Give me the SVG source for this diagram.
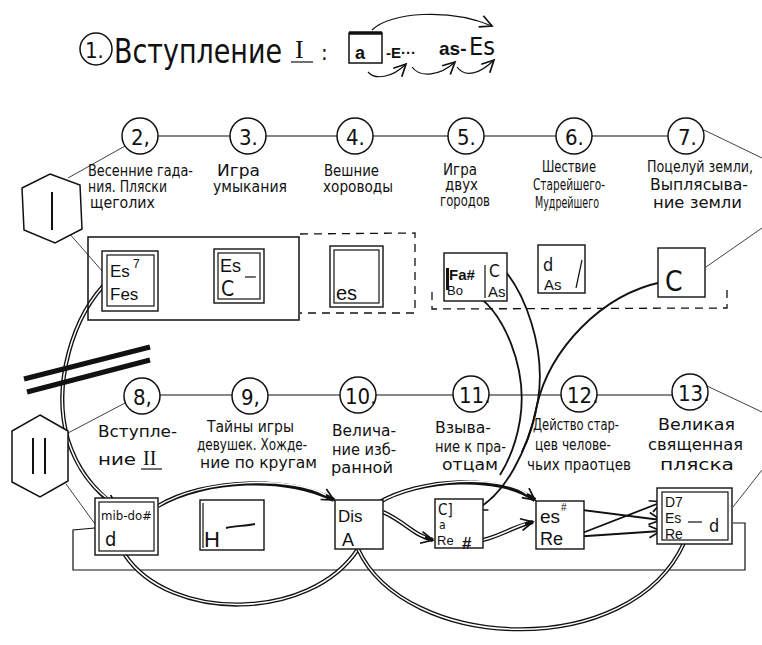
<svg xmlns="http://www.w3.org/2000/svg" width="762" height="645" viewBox="0 0 762 645">
<defs>
<style>
.hw{font-family:"Liberation Sans Narrow","DejaVu Sans Condensed","Liberation Sans",sans-serif;fill:#111}
.lb{font-size:16.5px}
.sm{font-size:15px}
.bx{font-family:"Liberation Sans","DejaVu Sans",sans-serif;fill:#111}
.c{fill:#fff;stroke:#111;stroke-width:1.5}
.r{fill:#fff;stroke:#111;stroke-width:1.4}
.ri{fill:none;stroke:#111;stroke-width:1.2}
.ln{fill:none;stroke:#111;stroke-width:1.2}
.th{fill:none;stroke:#111;stroke-width:0.8}
.dash{fill:none;stroke:#111;stroke-width:1.3;stroke-dasharray:8 6}
.s{fill:none;stroke:#111;stroke-width:1.8}
.db{fill:none;stroke:#111;stroke-width:4.2}
.dw{fill:none;stroke:#fff;stroke-width:1.5}
</style>
<marker id="ah" markerUnits="userSpaceOnUse" markerWidth="16" markerHeight="14" refX="13" refY="7" orient="auto">
<path d="M1,1 L13,7 L1,13" fill="none" stroke="#111" stroke-width="1.7"/>
</marker>
</defs>
<rect width="762" height="645" fill="#fff"/>

<g id="title">
<circle class="c" cx="96" cy="49" r="16"/>
<text class="hw" x="85" y="58" font-size="22">1.</text>
<text class="hw" x="114" y="63" font-size="34" textLength="168" lengthAdjust="spacingAndGlyphs">Вступление</text>
<text x="295" y="58" font-size="26" font-family="Liberation Serif,serif" fill="#111">I</text>
<line class="ln" x1="291" y1="62" x2="313" y2="62"/>
<text class="hw" x="321" y="60" font-size="22">:</text>
<rect x="349" y="33" width="33" height="30" fill="none" stroke="#111" stroke-width="1.5"/>
<line x1="349" y1="33" x2="382" y2="33" stroke="#111" stroke-width="3.5"/>
<text class="bx" x="355" y="59" font-size="18" font-weight="bold">a</text>
<text class="bx" x="386" y="58" font-size="15" font-weight="bold">-E···</text>
<text class="bx" x="439" y="55" font-size="19" font-weight="bold">as-</text>
<text class="hw" x="469" y="55" font-size="25">Es</text>
<path class="ln" d="M372,30 C390,12 450,8 492,26" marker-end="url(#ah)"/>
<path class="ln" d="M368,72 C375,80 392,78 406,64" marker-end="url(#ah)"/>
<path class="ln" d="M412,67 C420,78 440,76 455,62" marker-end="url(#ah)"/>
<path class="ln" d="M457,67 C465,78 480,74 494,60" marker-end="url(#ah)"/>
</g>

<g id="connectors">
<line class="ln" x1="158" y1="136" x2="668" y2="136"/>
<line class="th" x1="704" y1="130" x2="762" y2="158"/>
<line class="th" x1="706" y1="267" x2="762" y2="228"/>
<line class="ln" x1="160" y1="395" x2="672" y2="395"/>
<line class="th" x1="707" y1="386" x2="762" y2="412"/>
<line class="th" x1="733" y1="507" x2="762" y2="470"/>
<line class="th" x1="68" y1="178" x2="125" y2="146"/>
<line class="th" x1="68" y1="232" x2="103" y2="272"/>
<line class="th" x1="68" y1="433" x2="125" y2="403"/>
<line class="th" x1="66" y1="484" x2="95" y2="524"/>
<polyline class="ln" points="95,528 73,530 73,570 745,570 745,523 733,523"/>
<path class="dash" d="M300,234 L415,233 L415,313 L300,313"/>
<path class="dash" d="M432,292 L432,309 L727,308 L727,290"/>
<path class="db" d="M110,279 C72,315 52,385 68,440 C78,472 96,492 117,507" marker-end="url(#ah)"/>
<path class="dw" d="M110,279 C72,315 52,385 68,440 C77,468 92,487 108,499"/>
<path class="db" d="M158,506 C205,478 290,476 334,500" marker-end="url(#ah)"/>
<path class="dw" d="M158,506 C205,478 290,476 326,495"/>
<path class="db" d="M125,555 C170,622 310,622 358,549"/>
<path class="dw" d="M125,555 C170,622 310,622 358,549"/>
<path class="db" d="M358,549 C405,652 630,662 684,543"/>
<path class="dw" d="M358,549 C405,652 630,662 684,543"/>
<path class="db" d="M383,512 C405,522 415,536 433,540" marker-end="url(#ah)"/>
<path class="dw" d="M383,512 C405,522 412,533 425,537"/>
<path class="db" d="M378,503 C420,478 500,474 535,500" marker-end="url(#ah)"/>
<path class="dw" d="M378,503 C420,478 500,474 527,494"/>
<path class="db" d="M483,540 C500,536 515,526 533,522" marker-end="url(#ah)"/>
<path class="dw" d="M483,540 C500,536 512,528 525,524"/>
<path class="s" d="M567,508 L661,520" marker-end="url(#ah)"/>
<path class="s" d="M572,537 L662,502" marker-end="url(#ah)"/>
<path class="s" d="M572,537 L661,531" marker-end="url(#ah)"/>
<path class="s" d="M470,291 C505,310 528,370 520,420 C516,445 508,462 500,475"/>
<path class="s" d="M497,262 C526,290 546,350 538,400 C534,425 528,440 522,452"/>
<path class="s" d="M662,282 C600,295 550,350 537,405 C528,450 505,495 475,510" marker-end="url(#ah)"/>
</g>

<g id="bars">
<line x1="24" y1="379" x2="150" y2="347" stroke="#111" stroke-width="5"/>
<line x1="27" y1="392" x2="150" y2="360" stroke="#111" stroke-width="5"/>
</g>

<g id="hexI">
<polygon points="50,174 80,185 82,229 55,243 24,230 22,188" fill="#fff" stroke="#111" stroke-width="1.5"/>
<line x1="52" y1="192" x2="52" y2="230" stroke="#111" stroke-width="2"/>
</g>
<g id="hexII">
<polygon points="40,415 68,431 68,481 40,497 12,482 12,431" fill="#fff" stroke="#111" stroke-width="1.5"/>
<line x1="33" y1="438" x2="33" y2="474" stroke="#111" stroke-width="2"/>
<line x1="45" y1="438" x2="45" y2="474" stroke="#111" stroke-width="2"/>
</g>

<g id="n2"><circle class="c" cx="140" cy="136" r="18"/><text class="hw" x="131" y="145" font-size="22">2,</text>
<text class="hw lb" x="88" y="176" textLength="105" lengthAdjust="spacingAndGlyphs">Весенние гада-</text>
<text class="hw lb" x="88" y="192" textLength="79" lengthAdjust="spacingAndGlyphs">ния. Пляски</text>
<text class="hw lb" x="90" y="208" textLength="65" lengthAdjust="spacingAndGlyphs">щеголих</text></g>
<g id="n3"><circle class="c" cx="248" cy="136" r="18"/><text class="hw" x="239" y="145" font-size="22">3.</text>
<text class="hw lb" x="217" y="176" textLength="43" lengthAdjust="spacingAndGlyphs">Игра</text>
<text class="hw lb" x="213" y="192" textLength="74" lengthAdjust="spacingAndGlyphs">умыкания</text></g>
<g id="n4"><circle class="c" cx="355" cy="136" r="18"/><text class="hw" x="346" y="145" font-size="22">4.</text>
<text class="hw lb" x="324" y="176" textLength="55" lengthAdjust="spacingAndGlyphs">Вешние</text>
<text class="hw lb" x="323" y="192" textLength="70" lengthAdjust="spacingAndGlyphs">хороводы</text></g>
<g id="n5"><circle class="c" cx="466" cy="136" r="18"/><text class="hw" x="457" y="145" font-size="22">5.</text>
<text class="hw sm" x="443" y="175" textLength="34" lengthAdjust="spacingAndGlyphs">Игра</text>
<text class="hw sm" x="445" y="190" textLength="33" lengthAdjust="spacingAndGlyphs">двух</text>
<text class="hw sm" x="440" y="206" textLength="50" lengthAdjust="spacingAndGlyphs">городов</text></g>
<g id="n6"><circle class="c" cx="574" cy="136" r="18"/><text class="hw" x="565" y="145" font-size="22">6.</text>
<text class="hw lb" x="542" y="172" textLength="54" lengthAdjust="spacingAndGlyphs">Шествие</text>
<text class="hw lb" x="533" y="190" textLength="72" lengthAdjust="spacingAndGlyphs">Старейшего-</text>
<text class="hw lb" x="535" y="208" textLength="64" lengthAdjust="spacingAndGlyphs">Мудрейшего</text></g>
<g id="n7"><circle class="c" cx="686" cy="136" r="18"/><text class="hw" x="678" y="145" font-size="22">7.</text>
<text class="hw lb" x="647" y="172" textLength="106" lengthAdjust="spacingAndGlyphs">Поцелуй земли,</text>
<text class="hw lb" x="650" y="190" textLength="98" lengthAdjust="spacingAndGlyphs">Выплясыва-</text>
<text class="hw lb" x="653" y="208" textLength="89" lengthAdjust="spacingAndGlyphs">ние земли</text></g>

<g id="groupI"><rect x="88" y="237" width="211" height="83" fill="none" stroke="#111" stroke-width="1.5"/></g>

<g id="b2"><rect class="r" x="102" y="251" width="56" height="60"/><rect class="ri" x="107" y="255" width="47" height="51"/>
<text class="bx" x="110" y="277" font-size="17">Es</text><text class="bx" x="133" y="268" font-size="12">7</text>
<text class="bx" x="110" y="300" font-size="17">Fes</text></g>
<g id="b3"><rect class="r" x="214" y="249" width="50" height="54"/><rect class="ri" x="218" y="253" width="42" height="46"/>
<text class="bx" x="220" y="272" font-size="18">Es</text><line class="ln" x1="245" y1="277" x2="256" y2="277"/>
<text class="hw" x="221" y="296" font-size="21">C</text></g>
<g id="b4"><rect class="r" x="330" y="246" width="53" height="61"/><rect class="ri" x="334" y="250" width="45" height="53"/>
<text class="bx" x="336" y="300" font-size="20">es</text></g>
<g id="b5"><rect class="r" x="444" y="253" width="63" height="48"/><line class="ln" x1="485" y1="265" x2="485" y2="298"/>
<rect x="446" y="268" width="3" height="22" fill="#111"/>
<text class="bx" x="449" y="280" font-size="15" font-weight="bold">Fa#</text>
<text class="bx" x="447" y="295" font-size="13">Bo</text>
<text class="hw" x="489" y="277" font-size="17">C</text>
<text class="bx" x="488" y="297" font-size="15">As</text></g>
<g id="b6"><rect class="r" x="538" y="245" width="47" height="48"/>
<text class="hw" x="543" y="271" font-size="18">d</text>
<text class="bx" x="544" y="290" font-size="15">As</text>
<line class="ln" x1="582" y1="260" x2="576" y2="288"/></g>
<g id="b7"><rect class="r" x="658" y="248" width="47" height="49"/>
<text class="hw" x="665" y="291" font-size="28">C</text></g>

<g id="n8"><circle class="c" cx="142" cy="396" r="18"/><text class="hw" x="133" y="405" font-size="22">8,</text>
<text class="hw lb" x="98" y="437" textLength="79" lengthAdjust="spacingAndGlyphs">Вступле-</text>
<text class="hw lb" x="98" y="465" textLength="38" lengthAdjust="spacingAndGlyphs">ние</text>
<text x="143" y="465" font-size="20" font-family="Liberation Serif,serif" fill="#111">II</text>
<line class="ln" x1="141" y1="469" x2="162" y2="469"/></g>
<g id="n9"><circle class="c" cx="250" cy="396" r="18"/><text class="hw" x="241" y="405" font-size="22">9,</text>
<text class="hw lb" x="207" y="432" textLength="87" lengthAdjust="spacingAndGlyphs">Тайны игры</text>
<text class="hw lb" x="197" y="450" textLength="110" lengthAdjust="spacingAndGlyphs">девушек. Хожде-</text>
<text class="hw lb" x="200" y="468" textLength="117" lengthAdjust="spacingAndGlyphs">ние по кругам</text></g>
<g id="n10"><circle class="c" cx="358" cy="395" r="18"/><text class="hw" x="345" y="404" font-size="22">10.</text>
<text class="hw lb" x="332" y="436" textLength="64" lengthAdjust="spacingAndGlyphs">Велича-</text>
<text class="hw lb" x="332" y="455" textLength="64" lengthAdjust="spacingAndGlyphs">ние изб-</text>
<text class="hw lb" x="331" y="473" textLength="62" lengthAdjust="spacingAndGlyphs">ранной</text></g>
<g id="n11"><circle class="c" cx="471" cy="394" r="18"/><text class="hw" x="459" y="403" font-size="22">11.</text>
<text class="hw lb" x="435" y="433" textLength="56" lengthAdjust="spacingAndGlyphs">Взыва-</text>
<text class="hw lb" x="435" y="452" textLength="71" lengthAdjust="spacingAndGlyphs">ние к пра-</text>
<text class="hw lb" x="442" y="470" textLength="56" lengthAdjust="spacingAndGlyphs">отцам</text></g>
<g id="n12"><circle class="c" cx="579" cy="394" r="18"/><text class="hw" x="567" y="403" font-size="22">12.</text>
<text class="hw lb" x="533" y="430" textLength="86" lengthAdjust="spacingAndGlyphs">Действо стар-</text>
<text class="hw lb" x="535" y="450" textLength="76" lengthAdjust="spacingAndGlyphs">цев челове-</text>
<text class="hw lb" x="527" y="470" textLength="104" lengthAdjust="spacingAndGlyphs">чьих праотцев</text></g>
<g id="n13"><circle class="c" cx="690" cy="392" r="18"/><text class="hw" x="678" y="401" font-size="22">13.</text>
<text class="hw lb" x="658" y="430" textLength="77" lengthAdjust="spacingAndGlyphs">Великая</text>
<text class="hw lb" x="648" y="450" textLength="95" lengthAdjust="spacingAndGlyphs">священная</text>
<text class="hw lb" x="660" y="470" textLength="74" lengthAdjust="spacingAndGlyphs">пляска</text></g>

<g id="b8"><rect class="r" x="95" y="498" width="63" height="57"/><rect class="ri" x="99" y="502" width="55" height="49"/>
<text class="hw" x="101" y="520" font-size="13" textLength="51" lengthAdjust="spacingAndGlyphs">mib-do#</text>
<text class="hw" x="105" y="546" font-size="20">d</text></g>
<g id="b9"><rect class="r" x="200" y="500" width="64" height="50"/><line class="ln" x1="203" y1="503" x2="203" y2="548"/>
<text class="bx" x="204" y="547" font-size="22">H</text><path class="s" d="M226,528 C235,526 245,526 255,524"/></g>
<g id="b10"><rect class="r" x="335" y="500" width="48" height="49"/>
<text class="bx" x="338" y="522" font-size="17">Dis</text>
<text class="bx" x="342" y="546" font-size="18">A</text></g>
<g id="b11"><rect class="r" x="435" y="499" width="48" height="49"/>
<text class="hw" x="438" y="515" font-size="15">C]</text>
<text class="hw" x="439" y="529" font-size="12">a</text>
<text class="bx" x="437" y="545" font-size="13">Re</text>
<text class="bx" x="462" y="549" font-size="17" font-weight="bold">#</text></g>
<g id="b12"><rect class="r" x="536" y="501" width="48" height="48"/>
<text class="bx" x="540" y="523" font-size="19">es</text>
<text class="bx" x="561" y="511" font-size="10">#</text>
<text class="bx" x="540" y="545" font-size="18">Re</text></g>
<g id="b13"><rect class="r" x="657" y="488" width="75" height="56"/><rect class="ri" x="662" y="492" width="66" height="48"/>
<text class="bx" x="665" y="507" font-size="14">D7</text>
<text class="bx" x="665" y="523" font-size="14">Es</text>
<text class="bx" x="665" y="539" font-size="14">Re</text>
<line class="ln" x1="688" y1="522" x2="702" y2="522"/>
<text class="hw" x="709" y="532" font-size="18">d</text></g>
</svg>
